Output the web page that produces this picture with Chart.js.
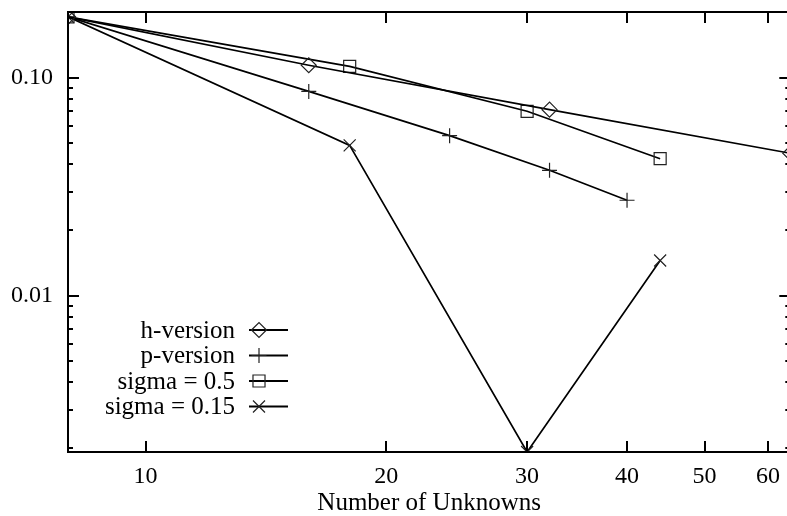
<!DOCTYPE html>
<html>
<head>
<meta charset="utf-8">
<script src="https://cdn.jsdelivr.net/npm/chart.js@4/dist/chart.umd.min.js"></script>
<style>
  html, body { margin: 0; padding: 0; background: #fff; overflow: hidden; width: 787px; height: 516px; }
  #wrap { position: absolute; left: 0; top: 0; width: 800px; height: 516px; }
</style>
</head>
<body>
<div id="wrap"><canvas id="myChart" width="800" height="516"></canvas></div>
<script>
// values
const hX = [8, 16, 32, 64];
const hY = [0.19, 0.114, 0.0713, 0.045];
const pX = [8, 16, 24, 32, 40];
const pY = [0.19, 0.0865, 0.0542, 0.0376, 0.0274];
const sig05X = [8, 18, 30, 44];
const sig05Y = [0.19, 0.1127, 0.0701, 0.0425];
const sig015X = [8, 18, 30, 44];
const sig015Y = [0.19, 0.0489, 0.00192, 0.0145];

const seriesNames = ['h-version', 'p-version', 'sigma = 0.5', 'sigma = 0.15'];

const xTickValues = [10, 20, 30, 40, 50, 60];
const xTickLabels = ['10', '20', '30', '40', '50', '60'];
const yTickValues = [0.01, 0.1];
const yTickLabels = ['0.01', '0.10'];
const yMinorValues = [0.002, 0.003, 0.004, 0.005, 0.006, 0.007, 0.008, 0.009,
                      0.02, 0.03, 0.04, 0.05, 0.06, 0.07, 0.08, 0.09];

const FONT = 'Liberation Serif';

const pts = (xs, ys) => xs.map((x, i) => ({ x: x, y: ys[i] }));

function series(label, data, style, radius) {
  return {
    label: label,
    data: data,
    borderColor: '#000',
    borderWidth: 1.7,
    tension: 0,
    fill: false,
    pointStyle: style,
    pointRadius: radius,
    pointHoverRadius: radius,
    pointBorderWidth: 1.2,
    pointBorderColor: '#222',
    pointBackgroundColor: 'rgba(0,0,0,0)'
  };
}

// gnuplot style frame with inward ticks on all four sides
const frameTicks = {
  id: 'frameTicks',
  afterDatasetsDraw(chart) {
    const { ctx, chartArea: a, scales: { x, y } } = chart;
    ctx.save();
    ctx.strokeStyle = '#000';
    ctx.lineWidth = 2;
    ctx.strokeRect(a.left, a.top, a.right - a.left, a.bottom - a.top);
    ctx.beginPath();
    xTickValues.forEach(v => {
      const px = Math.round(x.getPixelForValue(v));
      ctx.moveTo(px, a.bottom); ctx.lineTo(px, a.bottom - 11);
      ctx.moveTo(px, a.top); ctx.lineTo(px, a.top + 11);
    });
    yTickValues.forEach(v => {
      const py = Math.round(y.getPixelForValue(v));
      ctx.moveTo(a.left, py); ctx.lineTo(a.left + 11, py);
      ctx.moveTo(a.right, py); ctx.lineTo(a.right - 11, py);
    });
    yMinorValues.forEach(v => {
      const py = Math.round(y.getPixelForValue(v));
      ctx.moveTo(a.left, py); ctx.lineTo(a.left + 5, py);
      ctx.moveTo(a.right, py); ctx.lineTo(a.right - 5, py);
    });
    ctx.stroke();
    ctx.restore();
  }
};

// key in the lower left, text right-aligned with sample on the right
const gnuKey = {
  id: 'gnuKey',
  afterDraw(chart) {
    const ctx = chart.ctx;
    ctx.save();
    ctx.font = '25px "' + FONT + '"';
    ctx.textAlign = 'right';
    ctx.textBaseline = 'middle';
    chart.data.datasets.forEach((ds, i) => {
      const yy = 330 + i * 25.5;
      ctx.fillStyle = '#000';
      ctx.fillText(ds.label, 235, yy + 1);
      ctx.strokeStyle = '#000';
      ctx.lineWidth = 2;
      ctx.beginPath();
      ctx.moveTo(249, yy); ctx.lineTo(288, yy);
      ctx.stroke();
      ctx.fillStyle = 'rgba(0,0,0,0)';
      ctx.strokeStyle = '#222';
      ctx.lineWidth = 1.2;
      Chart.helpers.drawPoint(ctx, {
        pointStyle: ds.pointStyle,
        radius: ds.pointRadius,
        borderWidth: 1.2,
        rotation: 0
      }, 259, yy);
    });
    ctx.restore();
  }
};

const ctx = document.getElementById('myChart').getContext('2d');
const myChart = new Chart(ctx, {
  type: 'line',
  data: {
    datasets: [
      series(seriesNames[0], pts(hX, hY), 'rectRot', 7.5),
      series(seriesNames[1], pts(pX, pY), 'cross', 7.5),
      series(seriesNames[2], pts(sig05X, sig05Y), 'rect', 8.5),
      series(seriesNames[3], pts(sig015X, sig015Y), 'crossRot', 8.5)
    ]
  },
  options: {
    responsive: false,
    animation: false,
    devicePixelRatio: 1,
    layout: { padding: { top: 12, right: 8, left: 0, bottom: 0 } },
    scales: {
      x: {
        type: 'logarithmic',
        min: 8,
        max: 64,
        grid: { display: false, drawTicks: false },
        border: { display: false },
        afterBuildTicks: s => { s.ticks = xTickValues.map(v => ({ value: v })); },
        afterFit: s => { s.height = 64; s.paddingLeft = 0; s.paddingRight = 0; },
        ticks: {
          autoSkip: false,
          maxRotation: 0,
          padding: 13,
          color: '#000',
          font: { family: FONT, size: 24, lineHeight: 1 },
          callback: (v, i) => xTickLabels[i]
        },
        title: {
          display: true,
          text: 'Number of Unknowns',
          color: '#000',
          padding: { top: 0, bottom: 0 },
          font: { family: FONT, size: 25, lineHeight: 1 }
        }
      },
      y: {
        type: 'logarithmic',
        min: 0.00192,
        max: 0.2,
        grid: { display: false, drawTicks: false },
        border: { display: false },
        afterBuildTicks: s => { s.ticks = yTickValues.map(v => ({ value: v })); },
        afterFit: s => { s.width = 68; s.paddingTop = 0; s.paddingBottom = 0; },
        ticks: {
          autoSkip: false,
          padding: 15,
          color: '#000',
          font: { family: FONT, size: 24, lineHeight: 1 },
          callback: (v, i) => yTickLabels[i]
        }
      }
    },
    plugins: {
      legend: { display: false },
      tooltip: { enabled: false }
    }
  },
  plugins: [frameTicks, gnuKey]
});
</script>
</body>
</html>
